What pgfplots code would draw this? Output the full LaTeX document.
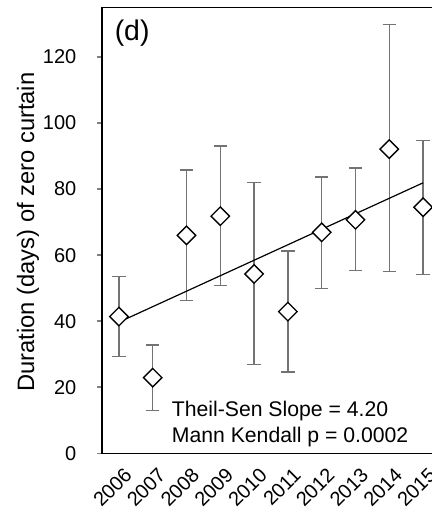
\documentclass[border=0pt]{standalone}
\usepackage{fontspec}
\setmainfont{Liberation Sans}
\usepackage{pgfplots}
\pgfplotsset{compat=1.18}
\definecolor{errgray}{HTML}{737373}

\begin{document}
\begin{tikzpicture}
\begin{axis}[
    scale only axis,
    width=253.5pt, height=334.35pt,
    xmin=2005.5, xmax=2015.5,
    ymin=0, ymax=135,
    axis line style={line width=1.1pt},
    ytick={0,20,...,120},
    xtick={2006,...,2015},
    ytick pos=left, xtick pos=bottom,
    tick align=outside,
    major x tick style={draw=none},
    major y tick style={line width=1.1pt},
    major tick length=3.75pt,
    /pgf/number format/assume math mode=true,
    /pgf/number format/1000 sep={},
    every tick label/.append style={font=\fontsize{15}{18}\selectfont},
    yticklabel style={xshift=-12pt},
    xticklabel style={rotate=45, anchor=east, inner sep=0pt, xshift=-2pt, yshift=-12pt},
    ylabel={Duration (days) of zero curtain},
    ylabel style={font=\fontsize{17.8}{21}\selectfont, at={(axis description cs:-0.219,0.496)}, anchor=center},
]
% error bars
\addplot[draw=none, mark=none,
    error bars/.cd, y dir=both, y explicit,
    error bar style={errgray, line width=1pt},
    error mark options={errgray, line width=1pt, mark size=5pt, rotate=90}]
  table[x=yr, y=v, y error plus=ep, y error minus=em] {
yr   v     ep    em
2006 41.4  12.1  12.0
2007 22.9  9.9   9.9
2008 66.0  19.8  19.8
2009 71.8  21.2  21.0
2010 54.3  27.6  27.4
2011 42.9  18.4  18.3
2012 66.9  16.8  17.0
2013 70.7  15.7  15.3
2014 92.1  37.8  37.1
2015 74.5  20.3  20.4
};
% markers
\addplot[only marks, mark=square*, mark size=4.9pt,
    mark options={rotate=45, fill=white, draw=black, line width=1pt}]
  coordinates {(2006,41.4) (2007,22.9) (2008,66.0) (2009,71.8) (2010,54.3)
               (2011,42.9) (2012,66.9) (2013,70.7) (2014,92.1) (2015,74.5)};
% Theil-Sen trend line
\addplot[black, line width=0.9pt, mark=none] coordinates {(2006,39.7) (2015,81.9)};

\node[anchor=north west, font=\fontsize{21.3}{24}\selectfont, inner sep=0pt]
  at (axis cs:2005.87,131.2) {(d)};
\node[anchor=base west, font=\fontsize{15.9}{19}\selectfont, inner sep=0pt]
  at (axis cs:2007.56,11.1) {Theil-Sen Slope = 4.20};
\node[anchor=base west, font=\fontsize{15.9}{19}\selectfont, inner sep=0pt]
  at (axis cs:2007.56,3.2) {Mann Kendall p = 0.0002};
% title, mostly above the visible area
\node[anchor=base west, font=\fontsize{15.9}{19}\selectfont, inner sep=0pt, yshift=6.7pt]
  at (axis cs:2008.4,135) {(days)};
\end{axis}
\pgfresetboundingbox
\path[use as bounding box] ([xshift=-76.5pt,yshift=-43.3pt]current axis.south west)
  rectangle ([xshift=-6pt,yshift=5.6pt]current axis.north east);
\end{tikzpicture}
\end{document}
